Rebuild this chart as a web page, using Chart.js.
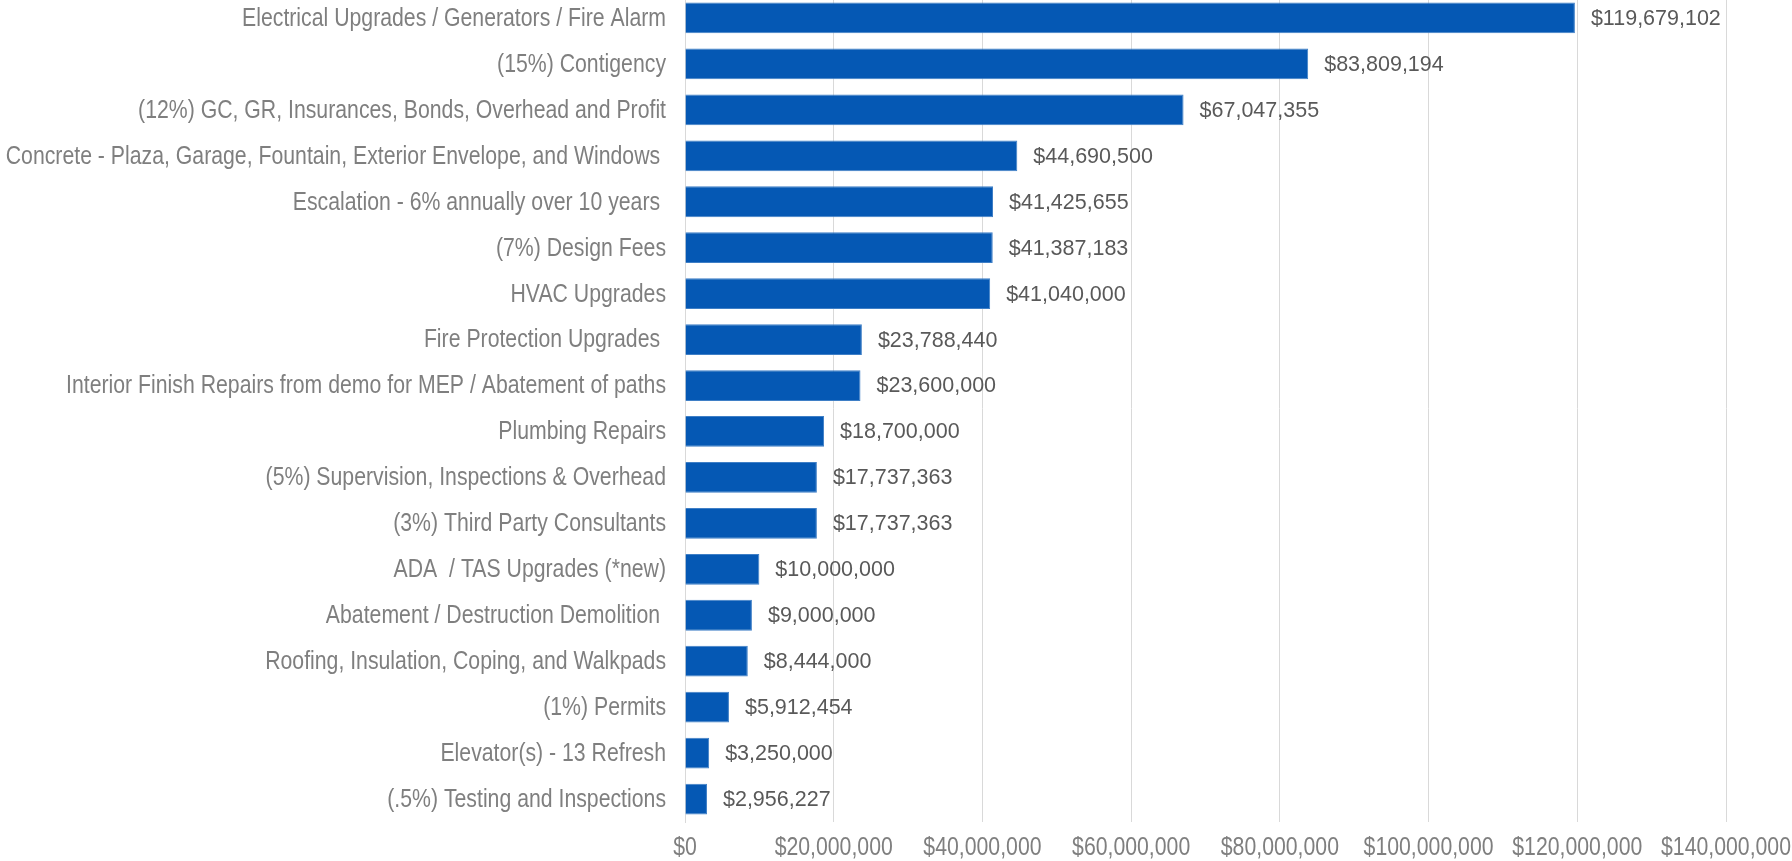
<!DOCTYPE html>
<html>
<head>
<meta charset="utf-8">
<title>Project Cost Breakdown</title>
<script src="https://cdn.jsdelivr.net/npm/chart.js@4/dist/chart.umd.min.js"></script>
<style>
    html, body {
        margin: 0;
        padding: 0;
        background: #ffffff;
        overflow: hidden;
    }
    #chart-wrap {
        position: relative;
        top: -5px;
        width: 1792px;
        height: 868px;
    }
</style>
</head>
<body>
<div id="chart-wrap">
    <canvas id="cost-chart"></canvas>
</div>
<script>
// Cost items, largest first:
const categories = [
    'Electrical Upgrades / Generators / Fire Alarm',
    '(15%) Contigency',
    '(12%) GC, GR, Insurances, Bonds, Overhead and Profit',
    'Concrete - Plaza, Garage, Fountain, Exterior Envelope, and Windows ',
    'Escalation - 6% annually over 10 years ',
    '(7%) Design Fees',
    'HVAC Upgrades',
    'Fire Protection Upgrades ',
    'Interior Finish Repairs from demo for MEP / Abatement of paths',
    'Plumbing Repairs',
    '(5%) Supervision, Inspections & Overhead',
    '(3%) Third Party Consultants',
    'ADA  / TAS Upgrades (*new)',
    'Abatement / Destruction Demolition ',
    'Roofing, Insulation, Coping, and Walkpads',
    '(1%) Permits',
    'Elevator(s) - 13 Refresh',
    '(.5%) Testing and Inspections'
];

const costs = [
    119679102, 83809194, 67047355, 44690500, 41425655, 41387183,
    41040000, 23788440, 23600000, 18700000, 17737363, 17737363,
    10000000, 9000000, 8444000, 5912454, 3250000, 2956227
];

const axisTicks = [0, 20000000, 40000000, 60000000, 80000000, 100000000, 120000000, 140000000];

// Helper to format dollar amounts:
const formatMoney = (value) => '$' + Math.round(value).toLocaleString('en-US');

// No condensed font installed, so squeeze the regular one sideways:
const axisFont = '25px "Liberation Sans", Arial, sans-serif';
const squeeze = 0.85;

const drawSqueezed = (ctx, text, x, y, align) => {
    ctx.save();
    ctx.translate(x, y);
    ctx.scale(squeeze, 1);
    ctx.textAlign = align;
    ctx.fillText(text, 0, 0);
    ctx.restore();
};

// Category names, tick labels and bar values drawn by hand:
const costLabels = {
    id: 'costLabels',
    afterDatasetsDraw(chart) {
        const ctx = chart.ctx;
        const xScale = chart.scales.x;
        const yScale = chart.scales.y;
        const meta = chart.getDatasetMeta(0);

        ctx.save();
        ctx.textBaseline = 'middle';

        // Category names, right aligned against the axis:
        ctx.font = axisFont;
        ctx.fillStyle = '#7f7f7f';
        categories.forEach((name, i) => {
            drawSqueezed(ctx, name, xScale.left - 19, yScale.getPixelForTick(i) + 1, 'right');
        });

        // Dollar ticks under the plot:
        axisTicks.forEach((value) => {
            drawSqueezed(ctx, formatMoney(value), xScale.getPixelForValue(value), chart.chartArea.bottom + 26, 'center');
        });

        // Values past the end of each bar:
        ctx.font = '21.5px "Liberation Sans", Arial, sans-serif';
        ctx.fillStyle = '#595959';
        ctx.textAlign = 'left';
        meta.data.forEach((bar, i) => {
            ctx.fillText(formatMoney(costs[i]), bar.x + 16, bar.y + 1);
        });
        ctx.restore();
    }
};

let context = document.getElementById('cost-chart').getContext('2d');

let costChart = new Chart(context, {
    type: 'bar',
    data: {
        labels: categories,
        datasets: [{
            data: costs,
            backgroundColor: '#0558b4',
            borderColor: '#3f7fc6',
            borderWidth: 1,
            categoryPercentage: 1.0,
            barPercentage: 0.67
        }]
    },
    options: {
        indexAxis: 'y',
        responsive: true,
        maintainAspectRatio: false,
        animation: false,
        layout: {
            padding: { top: 0, right: 66, bottom: 41, left: 0 }
        },
        plugins: {
            legend: { display: false },
            tooltip: { enabled: false }
        },
        scales: {
            x: {
                min: axisTicks[0],
                max: axisTicks[axisTicks.length - 1],
                afterBuildTicks: (scale) => {
                    scale.ticks = axisTicks.map((v) => ({ value: v }));
                },
                grid: {
                    color: '#d9d9d9',
                    lineWidth: 1,
                    drawTicks: false
                },
                border: { display: false },
                ticks: { display: false }
            },
            y: {
                grid: { display: false, drawTicks: false },
                border: { display: true, color: '#d9d9d9', width: 1 },
                ticks: { display: false },
                afterFit: (scale) => {
                    scale.width = 685;
                }
            }
        }
    },
    plugins: [costLabels]
});
</script>
</body>
</html>
